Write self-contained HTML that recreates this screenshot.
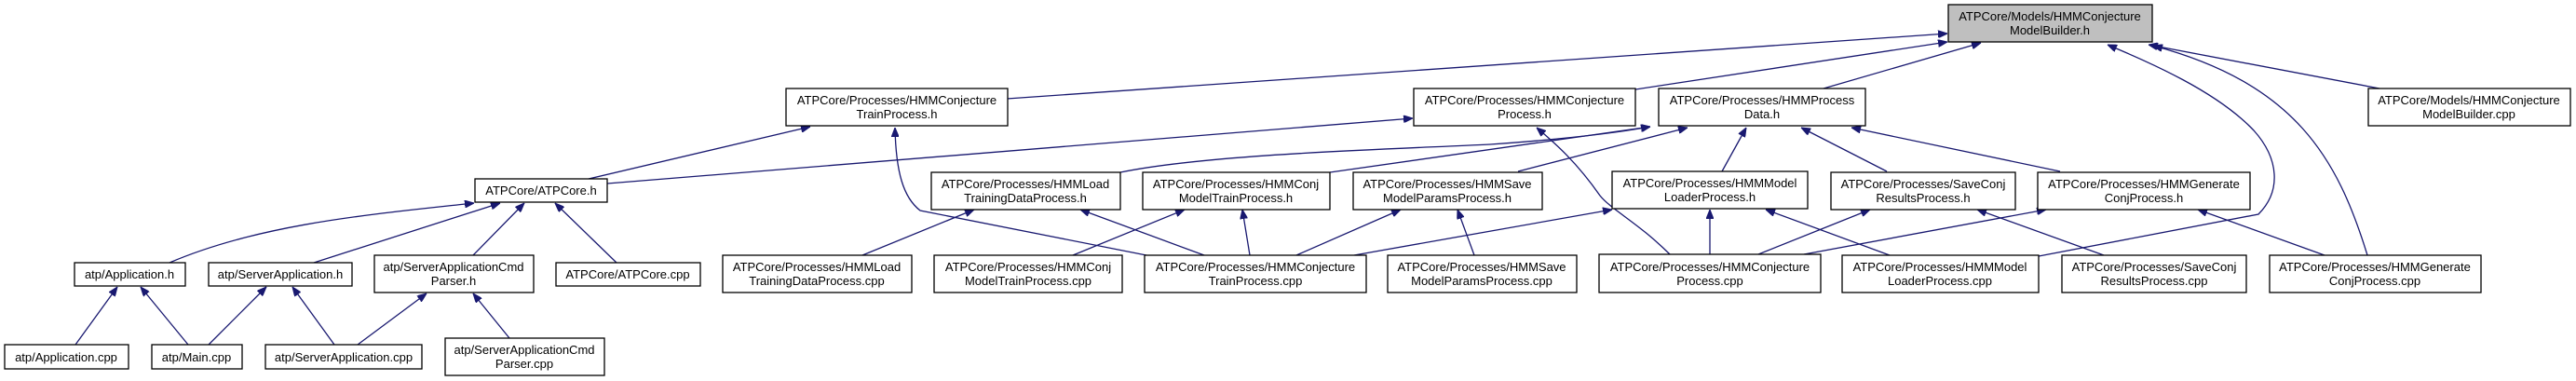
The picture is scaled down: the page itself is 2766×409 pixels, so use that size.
<!DOCTYPE html>
<html><head><meta charset="utf-8"><style>
html,body{margin:0;padding:0;background:#fff;}
svg{display:block;}
text{font-family:"Liberation Sans",Arial,sans-serif;font-size:13px;fill:#000;text-anchor:middle;}
rect{fill:#fff;stroke:#000;stroke-width:1.3;}
path{fill:none;stroke:#191970;stroke-width:1.3;}
</style></head><body>
<svg width="2766" height="409" viewBox="0 0 2766 409" xmlns="http://www.w3.org/2000/svg">
<defs>
<marker id="a" viewBox="0 0 10 8" refX="10" refY="4" markerWidth="10" markerHeight="8" markerUnits="userSpaceOnUse" orient="auto">
<path d="M0,0 L10,4 L0,8 z" style="fill:#191970;stroke:#191970;stroke-width:1"/>
</marker>
</defs>
<g marker-end="url(#a)">
<path d="M1081,106 L2091,36"/>
<path d="M1756,96 L2091,45"/>
<path d="M1958,95 L2127,46"/>
<path d="M2555,95 L2307,48"/>
<path d="M2189,275 L2425,230 C2450,205 2447,170 2420,140 C2380,98 2310,68 2263,48"/>
<path d="M2542,274 C2510,170 2465,90 2312,49"/>
<path d="M632,192 L870,136"/>
<path d="M652,197 L1517,127"/>
<path d="M1203,185 C1300,165 1500,160 1600,155 C1700,148 1750,140 1772,136"/>
<path d="M1428,185 L1772,136"/>
<path d="M1630,184 L1812,137"/>
<path d="M1849,184 L1875,137"/>
<path d="M2026,184 L1934,137"/>
<path d="M2212,184 L1988,137"/>
<path d="M182,282 C280,240 400,230 509,218"/>
<path d="M337,282 L537,218"/>
<path d="M508,274 L563,218"/>
<path d="M662,282 L596,218"/>
<path d="M81,370 L126,308"/>
<path d="M202,370 L151,308"/>
<path d="M224,370 L286,308"/>
<path d="M359,370 L314,308"/>
<path d="M384,370 L458,315"/>
<path d="M547,363 L508,315"/>
<path d="M1231,274 L988,226 C970,212 962,185 961,137"/>
<path d="M926,274 L1046,225"/>
<path d="M1293,274 L1160,225"/>
<path d="M1152,274 L1272,225"/>
<path d="M1342,274 L1334,225"/>
<path d="M1392,274 L1504,225"/>
<path d="M1583,274 L1565,225"/>
<path d="M1454,274 L1731,225"/>
<path d="M1793,273 C1760,240 1730,225 1718,210 C1690,170 1665,150 1650,137"/>
<path d="M1836,273 L1836,225"/>
<path d="M2029,274 L1896,225"/>
<path d="M1888,273 L2008,225"/>
<path d="M1937,273 L2197,225"/>
<path d="M2259,274 L2123,225"/>
<path d="M2496,274 L2360,225"/>
</g>
<!-- top -->
<rect x="2092" y="5" width="219" height="40" style="fill:#bfbfbf"/>
<text x="2201" y="22">ATPCore/Models/HMMConjecture</text><text x="2201" y="37">ModelBuilder.h</text>
<!-- row 2 -->
<rect x="844" y="95" width="238" height="40"/><text x="963" y="112">ATPCore/Processes/HMMConjecture</text><text x="963" y="127">TrainProcess.h</text>
<rect x="1518" y="95" width="238" height="40"/><text x="1637" y="112">ATPCore/Processes/HMMConjecture</text><text x="1637" y="127">Process.h</text>
<rect x="1781" y="95" width="222" height="40"/><text x="1892" y="112">ATPCore/Processes/HMMProcess</text><text x="1892" y="127">Data.h</text>
<rect x="2543" y="95" width="217" height="40"/><text x="2651" y="112">ATPCore/Models/HMMConjecture</text><text x="2651" y="127">ModelBuilder.cpp</text>
<!-- row 3 -->
<rect x="510" y="192" width="142" height="25"/><text x="581" y="209">ATPCore/ATPCore.h</text>
<rect x="1000" y="185" width="203" height="40"/><text x="1101" y="202">ATPCore/Processes/HMMLoad</text><text x="1101" y="217">TrainingDataProcess.h</text>
<rect x="1227" y="185" width="201" height="40"/><text x="1327" y="202">ATPCore/Processes/HMMConj</text><text x="1327" y="217">ModelTrainProcess.h</text>
<rect x="1453" y="185" width="203" height="40"/><text x="1554" y="202">ATPCore/Processes/HMMSave</text><text x="1554" y="217">ModelParamsProcess.h</text>
<rect x="1731" y="184" width="210" height="40"/><text x="1836" y="201">ATPCore/Processes/HMMModel</text><text x="1836" y="216">LoaderProcess.h</text>
<rect x="1966" y="185" width="198" height="40"/><text x="2065" y="202">ATPCore/Processes/SaveConj</text><text x="2065" y="217">ResultsProcess.h</text>
<rect x="2188" y="185" width="228" height="40"/><text x="2302" y="202">ATPCore/Processes/HMMGenerate</text><text x="2302" y="217">ConjProcess.h</text>
<!-- row 4 -->
<rect x="80" y="282" width="119" height="25"/><text x="139" y="299">atp/Application.h</text>
<rect x="224" y="282" width="154" height="25"/><text x="301" y="299">atp/ServerApplication.h</text>
<rect x="402" y="274" width="171" height="40"/><text x="487" y="291">atp/ServerApplicationCmd</text><text x="487" y="306">Parser.h</text>
<rect x="597" y="282" width="155" height="25"/><text x="674" y="299">ATPCore/ATPCore.cpp</text>
<rect x="776" y="274" width="203" height="40"/><text x="877" y="291">ATPCore/Processes/HMMLoad</text><text x="877" y="306">TrainingDataProcess.cpp</text>
<rect x="1003" y="274" width="202" height="40"/><text x="1104" y="291">ATPCore/Processes/HMMConj</text><text x="1104" y="306">ModelTrainProcess.cpp</text>
<rect x="1229" y="274" width="238" height="40"/><text x="1348" y="291">ATPCore/Processes/HMMConjecture</text><text x="1348" y="306">TrainProcess.cpp</text>
<rect x="1490" y="274" width="203" height="40"/><text x="1591" y="291">ATPCore/Processes/HMMSave</text><text x="1591" y="306">ModelParamsProcess.cpp</text>
<rect x="1717" y="273" width="238" height="41"/><text x="1836" y="291">ATPCore/Processes/HMMConjecture</text><text x="1836" y="306">Process.cpp</text>
<rect x="1978" y="274" width="211" height="40"/><text x="2083" y="291">ATPCore/Processes/HMMModel</text><text x="2083" y="306">LoaderProcess.cpp</text>
<rect x="2214" y="274" width="198" height="40"/><text x="2313" y="291">ATPCore/Processes/SaveConj</text><text x="2313" y="306">ResultsProcess.cpp</text>
<rect x="2437" y="274" width="227" height="40"/><text x="2550" y="291">ATPCore/Processes/HMMGenerate</text><text x="2550" y="306">ConjProcess.cpp</text>
<!-- row 5 -->
<rect x="5" y="370" width="133" height="26"/><text x="71" y="388">atp/Application.cpp</text>
<rect x="163" y="370" width="97" height="26"/><text x="211" y="388">atp/Main.cpp</text>
<rect x="285" y="370" width="168" height="26"/><text x="369" y="388">atp/ServerApplication.cpp</text>
<rect x="478" y="363" width="171" height="40"/><text x="563" y="380">atp/ServerApplicationCmd</text><text x="563" y="395">Parser.cpp</text>
</svg>
</body></html>
